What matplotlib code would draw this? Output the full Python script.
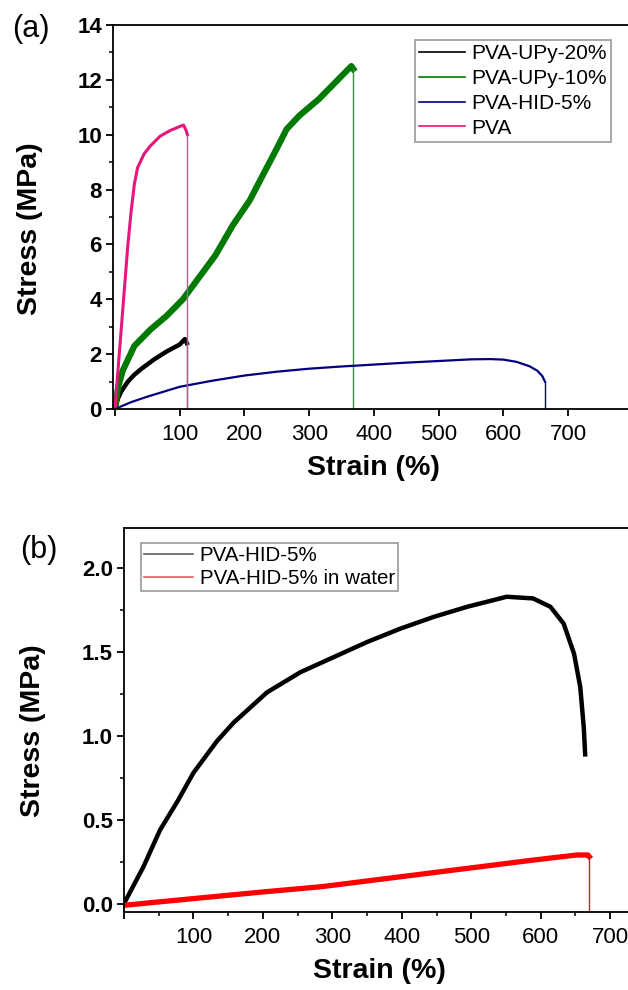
import matplotlib
matplotlib.use("Agg")
import matplotlib.pyplot as plt
from matplotlib.ticker import MultipleLocator, NullLocator

plt.rcParams['font.family'] = ['Liberation Sans', 'DejaVu Sans']

# ---- panel (a): stress-strain curves ----
pva_strain = [0, 4, 8, 12, 16, 20, 25, 30, 35, 45, 55, 70, 85, 100, 106, 110, 112, 112]
pva_stress = [0, 1.2, 2.4, 3.6, 4.8, 6.0, 7.2, 8.2, 8.8, 9.3, 9.6, 9.95, 10.15, 10.3, 10.35, 10.15, 10.0, 0]

upy20_strain = [0, 5, 10, 20, 30, 40, 60, 80, 100, 108, 110, 111, 111]
upy20_stress = [0, 0.4, 0.65, 1.0, 1.25, 1.45, 1.8, 2.1, 2.35, 2.55, 2.45, 2.4, 0]

upy10_strain = [0, 5, 12, 30, 55, 80, 105, 130, 155, 182, 208, 230, 250, 265, 285, 315, 340, 365, 368, 368]
upy10_stress = [0, 0.8, 1.4, 2.3, 2.9, 3.4, 4.0, 4.8, 5.6, 6.7, 7.6, 8.6, 9.5, 10.2, 10.7, 11.3, 11.9, 12.5, 12.4, 0]

hid5_strain = [0, 25, 50, 100, 150, 200, 250, 300, 350, 400, 450, 500, 550, 580, 600, 620, 640, 652, 660, 664, 664]
hid5_stress = [0, 0.25, 0.45, 0.81, 1.03, 1.22, 1.36, 1.47, 1.55, 1.62, 1.69, 1.75, 1.81, 1.82, 1.80, 1.72, 1.56, 1.40, 1.20, 1.0, 0]

# ---- panel (b): dry vs in water ----
dry_strain = [0, 28, 52, 77, 100, 134, 158, 206, 254, 302, 350, 398, 446, 494, 551, 589, 614, 633, 648, 657, 662, 664]
dry_stress = [0, 0.22, 0.44, 0.61, 0.78, 0.97, 1.08, 1.26, 1.38, 1.47, 1.56, 1.64, 1.71, 1.77, 1.83, 1.82, 1.77, 1.67, 1.49, 1.29, 1.05, 0.89]

wet_strain = [0, 100, 201, 282, 302, 398, 494, 590, 652, 668, 670, 670]
wet_stress = [-0.01, 0.03, 0.07, 0.10, 0.11, 0.16, 0.21, 0.26, 0.29, 0.29, 0.28, -0.05]

xtick_vals = [0, 100, 200, 300, 400, 500, 600, 700]
xtick_labels = ['', '100', '200', '300', '400', '500', '600', '700']

W, H = 628, 990
fig = plt.figure(figsize=(W / 100, H / 100), dpi=100)


def px_axes(left, right, top, bottom):
    return fig.add_axes([left / W, 1 - bottom / H, (right - left) / W, (bottom - top) / H])


def style_axes(ax):
    ax.spines['right'].set_visible(False)
    for s in ['left', 'bottom', 'top']:
        ax.spines[s].set_linewidth(1.3)
    ax.tick_params(which='major', direction='out', length=5, width=1.3, top=False, right=False)
    ax.tick_params(which='minor', direction='out', length=3, width=1.1, top=False, right=False)
    ax.tick_params(axis='x', labelsize=16, pad=6)
    ax.tick_params(axis='y', labelsize=16, pad=3)
    for lab in ax.get_yticklabels():
        lab.set_fontweight('bold')


# panel (a)
ax1 = px_axes(113, 633, 25, 409)
ax1.plot(upy20_strain[:-1], upy20_stress[:-1], color='black', lw=3.2, label='PVA-UPy-20%')
ax1.plot(upy20_strain[-2:], upy20_stress[-2:], color='#808080', lw=1)
ax1.plot(upy10_strain[:-1], upy10_stress[:-1], color='#007a00', lw=4.5, label='PVA-UPy-10%')
ax1.plot(upy10_strain[-2:], upy10_stress[-2:], color='#3c8c3c', lw=1)
ax1.plot(hid5_strain[:-1], hid5_stress[:-1], color='#000080', lw=1.6, label='PVA-HID-5%')
ax1.plot(hid5_strain[-2:], hid5_stress[-2:], color='#000080', lw=1)
ax1.plot(pva_strain[:-1], pva_stress[:-1], color='#e8157a', lw=2.2, label='PVA')
ax1.plot(pva_strain[-2:], pva_stress[-2:], color='#b06090', lw=1)

ax1.set_xlim(-3, 800)
ax1.set_ylim(0, 14)
ax1.set_xticks(xtick_vals)
ax1.set_xticklabels(xtick_labels)
ax1.xaxis.set_minor_locator(NullLocator())
ax1.yaxis.set_major_locator(MultipleLocator(2))
ax1.yaxis.set_minor_locator(MultipleLocator(1))
style_axes(ax1)
ax1.set_xlabel('Strain (%)', fontsize=20.5, fontweight='bold')
ax1.set_ylabel('Stress (MPa)', fontsize=20.5, fontweight='bold')
ax1.xaxis.set_label_coords(0.5, -0.12)
ax1.yaxis.set_label_coords(-0.135, 0.469)

leg1 = ax1.legend(loc='upper left', bbox_to_anchor=((415 - 113) / 520, (409 - 40) / 384),
                  fontsize=15, frameon=True, fancybox=False, edgecolor='#808080',
                  handlelength=2.2, handletextpad=0.3, labelspacing=0.28, borderpad=0.2,
                  borderaxespad=0)
leg1.get_frame().set_linewidth(1.2)
for line in leg1.get_lines():
    line.set_linewidth(1.2)
fig.text(31 / W, 1 - 29 / H, '(a)', fontsize=22, ha='center', va='center')

# panel (b)
ax2 = px_axes(124, 631, 528, 912)
ax2.plot(dry_strain, dry_stress, color='black', lw=3.2, label='PVA-HID-5%')
ax2.plot(wet_strain[:-1], wet_stress[:-1], color='#ff0000', lw=3.8, label='PVA-HID-5% in water')
ax2.plot(wet_strain[-2:], wet_stress[-2:], color='#a03030', lw=1)

ax2.set_xlim(0, 730)
ax2.set_ylim(-0.05, 2.24)
ax2.set_xticks(xtick_vals)
ax2.set_xticklabels(xtick_labels)
ax2.xaxis.set_minor_locator(MultipleLocator(50))
ax2.set_yticks([0.0, 0.5, 1.0, 1.5, 2.0])
ax2.set_yticklabels(['0.0', '0.5', '1.0', '1.5', '2.0'])
ax2.yaxis.set_minor_locator(MultipleLocator(0.25))
style_axes(ax2)
ax2.set_xlabel('Strain (%)', fontsize=20.5, fontweight='bold')
ax2.set_ylabel('Stress (MPa)', fontsize=20.5, fontweight='bold')
ax2.xaxis.set_label_coords(0.503, -0.12)
ax2.yaxis.set_label_coords(-0.154, 0.471)

leg2 = ax2.legend(loc='upper left', bbox_to_anchor=((141 - 124) / 507, (912 - 543) / 384),
                  fontsize=14.8, frameon=True, fancybox=False, edgecolor='#808080',
                  handlelength=2.4, handletextpad=0.3, labelspacing=0.2, borderpad=0.15,
                  borderaxespad=0)
leg2.get_frame().set_linewidth(1.2)
for line in leg2.get_lines():
    line.set_linewidth(1.2)
leg2.get_lines()[0].set_color('#606060')
leg2.get_lines()[1].set_color('#e06060')
fig.text(39 / W, 1 - 550 / H, '(b)', fontsize=22, ha='center', va='center')

fig.savefig('out.png', dpi=100)
